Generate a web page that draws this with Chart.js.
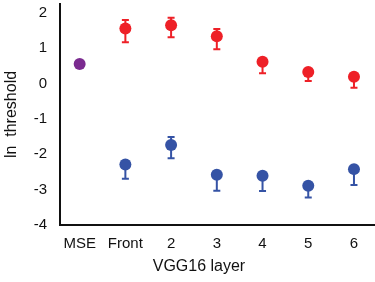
<!DOCTYPE html>
<html>
<head>
<meta charset="utf-8">
<script src="https://cdn.jsdelivr.net/npm/chart.js@4"></script>
<style>
html,body{margin:0;padding:0;background:#fff;}
#wrap{width:375px;height:282px;}
</style>
</head>
<body>
<div id="wrap"><canvas id="c" width="375" height="282"></canvas></div>
<script>
// Categories (x positions 0..6)
const categories = ['MSE', 'Front', '2', '3', '4', '5', '6'];
const yTicks = [2, 1, 0, -1, -2, -3, -4];
const xTitle = 'VGG16 layer';
const yTitle = 'ln  threshold';

// MSE point
const mseValue = [0.55];

// Red series (upper)
const redValues = [null, 1.56, 1.65, 1.34, 0.62, 0.33, 0.19];
const redUpper  = [null, 1.80, 1.86, 1.54, null, null, null];
const redLower  = [null, 1.17, 1.31, 0.97, 0.29, 0.07, -0.12];

// Blue series (lower)
const blueValues = [null, -2.29, -1.74, -2.58, -2.61, -2.89, -2.42];
const blueUpper  = [null, null, -1.51, null, null, null, null];
const blueLower  = [null, -2.69, -2.11, -3.03, -3.04, -3.22, -2.87];

const RED = '#ee2027';
const BLUE = '#3553a5';
const PURPLE = '#7b2b90';
const FONT = 'Liberation Sans, Arial, sans-serif';

function toPoints(vals) {
  const out = [];
  vals.forEach((v, i) => { if (v !== null) out.push({x: i, y: v}); });
  return out;
}

const errorBarPlugin = {
  id: 'errorBars',
  beforeDatasetsDraw(chart) {
    const ctx = chart.ctx;
    const xs = chart.scales.x, ys = chart.scales.y;
    const sets = [
      {vals: redValues, up: redUpper, lo: redLower, color: RED},
      {vals: blueValues, up: blueUpper, lo: blueLower, color: BLUE}
    ];
    ctx.save();
    ctx.lineWidth = 2;
    sets.forEach(s => {
      ctx.strokeStyle = s.color;
      s.vals.forEach((v, i) => {
        if (v === null) return;
        const px = xs.getPixelForValue(i);
        const py = ys.getPixelForValue(v);
        [s.up[i], s.lo[i]].forEach(e => {
          if (e === null) return;
          const pe = ys.getPixelForValue(e);
          ctx.beginPath();
          ctx.moveTo(px, py);
          ctx.lineTo(px, pe);
          ctx.moveTo(px - 3.5, pe);
          ctx.lineTo(px + 3.5, pe);
          ctx.stroke();
        });
      });
    });
    ctx.restore();
  }
};

const xTitlePlugin = {
  id: 'xTitle',
  afterDraw(chart) {
    const ctx = chart.ctx;
    const xs = chart.scales.x;
    ctx.save();
    ctx.fillStyle = '#111';
    ctx.font = '16px ' + FONT;
    ctx.textAlign = 'center';
    ctx.textBaseline = 'middle';
    // centred between the "Front" and "4" category positions, as in the reference
    ctx.fillText(xTitle, (xs.getPixelForValue(1) + xs.getPixelForValue(4)) / 2 + 5, 267);
    ctx.restore();
  }
};

new Chart(document.getElementById('c'), {
  type: 'scatter',
  data: {
    datasets: [
      {data: toPoints(mseValue), backgroundColor: PURPLE, borderColor: PURPLE, pointRadius: 6, borderWidth: 0},
      {data: toPoints(redValues), backgroundColor: RED, borderColor: RED, pointRadius: 6, borderWidth: 0},
      {data: toPoints(blueValues), backgroundColor: BLUE, borderColor: BLUE, pointRadius: 6, borderWidth: 0}
    ]
  },
  options: {
    responsive: false,
    animation: false,
    layout: {autoPadding: false, padding: {top: 4, right: 0, left: 2, bottom: 0}},
    plugins: {legend: {display: false}, tooltip: {enabled: false}},
    scales: {
      x: {
        type: 'linear',
        min: -0.43,
        max: 6.46,
        afterBuildTicks: s => { s.ticks = categories.map((c, i) => ({value: i})); },
        afterFit: s => { s.height = 57; s.paddingLeft = 0; s.paddingRight = 0; },
        grid: {display: false, drawTicks: false},
        border: {display: true, color: '#111', width: 2},
        ticks: {
          padding: 10,
          color: '#111',
          font: {family: FONT, size: 15},
          callback: (v) => categories[v],
          maxRotation: 0,
          autoSkip: false
        },
        title: {display: false}
      },
      y: {
        min: -4,
        max: 2.25,
        afterBuildTicks: s => { s.ticks = yTicks.map(v => ({value: v})); },
        afterFit: s => { s.width = 58; s.paddingTop = 0; s.paddingBottom = 0; },
        grid: {display: false, drawTicks: false},
        border: {display: true, color: '#111', width: 2},
        ticks: {
          padding: 13,
          color: '#111',
          font: {family: FONT, size: 15}
        },
        title: {
          display: true,
          text: yTitle,
          color: '#111',
          font: {family: FONT, size: 16},
          padding: {top: 0, bottom: 0}
        }
      }
    }
  },
  plugins: [errorBarPlugin, xTitlePlugin]
});
</script>
</body>
</html>
